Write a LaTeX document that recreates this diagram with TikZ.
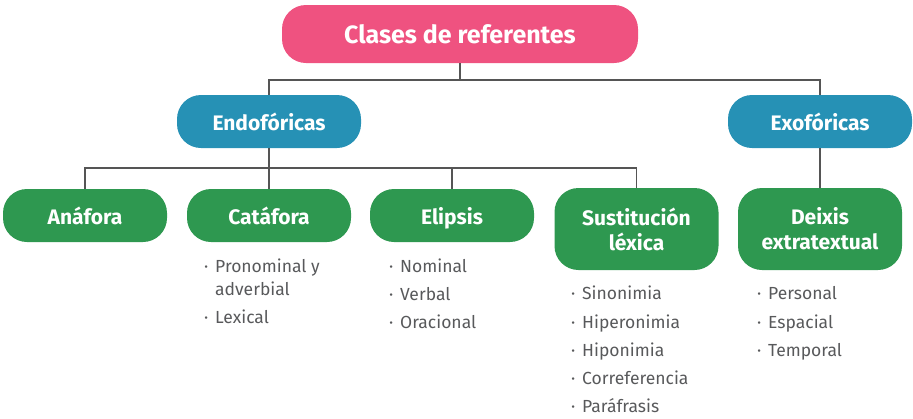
\documentclass[tikz,border=0pt]{standalone}
\usepackage{fontspec}
\setmainfont{Fira Sans}
\usepackage{tikz}
\usepackage{xcolor}
\usetikzlibrary{positioning}
\definecolor{mypink}{RGB}{239, 82, 128}
\definecolor{myblue}{RGB}{38, 145, 181}
\definecolor{mygreen}{RGB}{46, 152, 80}
\definecolor{mygray}{RGB}{88, 89, 91}
\definecolor{linegray}{RGB}{85, 85, 85}
\newcommand{\bul}{\llap{\textperiodcentered\hspace{7pt}}}

\begin{document}
\begin{tikzpicture}[x=1pt,y=-1pt,
          root/.style={fill=mypink,rounded corners=24pt,text=white,
                       minimum width=356pt,minimum height=58pt,
                       font=\fontsize{25}{28}\selectfont\bfseries},
          tipo/.style={fill=myblue,rounded corners=24pt,text=white,
                       minimum width=184pt,minimum height=53pt,
                       font=\fontsize{21}{25}\selectfont\bfseries},
          clase/.style={fill=mygreen,rounded corners=24pt,text=white,
                        minimum width=164pt,minimum height=53pt,align=center,
                        font=\fontsize{21}{25}\selectfont\bfseries},
          item/.style={anchor=base west,inner sep=0pt,text=mygray,align=left,
                       font=\fontsize{17.5}{23}\selectfont},
          conn/.style={draw=linegray,line width=1.6pt}]
        \useasboundingbox (0,0) rectangle (913,418);
        % cajas
        \node[root](clases) at (460,34) {Clases de referentes};
        \node[tipo](endo) at (269,121.5) {Endofóricas};
        \node[tipo](exo) at (820,121.5) {Exofóricas};
        \node[clase](anafora) at (85,215.5) {Anáfora};
        \node[clase](catafora) at (269,215.5) {Catáfora};
        \node[clase,text depth=0pt](elipsis) at (452,215.5) {Elipsis};
        \node[clase,minimum height=82pt](sustit) at (636.5,229) {Sustitución\\léxica};
        \node[clase,minimum height=82pt](deixis) at (820,229) {Deixis\\extratextual};
        \coordinate (bus1) at (460,80);
        \coordinate (bus2) at (269,168);
        % conectores
        \draw[conn](clases)--(bus1);
        \draw[conn](endo.north)--(endo.north |- bus1)--(exo.north |- bus1)--(exo.north);
        \draw[conn](endo)--(bus2);
        \draw[conn](anafora.north)--(anafora.north |- bus2)
          --(sustit.north |- bus2)--(sustit.north);
        \draw[conn](catafora.north)--(catafora.north |- bus2);
        \draw[conn](elipsis.north)--(elipsis.north |- bus2);
        \draw[conn](exo)--(deixis);
        % listas
        \node[item](cat1) at (215,295) {\bul Pronominal y\\adverbial};
        \node[item](cat2) at (215,323) {\bul Lexical};
        \node[item](eli1) at (400,272) {\bul Nominal};
        \node[item](eli2) at (400,300) {\bul Verbal};
        \node[item](eli3) at (400,328) {\bul Oracional};
        \node[item](sus1) at (582,299) {\bul Sinonimia};
        \node[item](sus2) at (582,328) {\bul Hiperonimia};
        \node[item](sus3) at (582,356) {\bul Hiponimia};
        \node[item](sus4) at (582,384) {\bul Correferencia};
        \node[item](sus5) at (582,412) {\bul Paráfrasis};
        \node[item](dei1) at (768,299) {\bul Personal};
        \node[item](dei2) at (768,328) {\bul Espacial};
        \node[item](dei3) at (768,356) {\bul Temporal};
      \end{tikzpicture}
\end{document}
